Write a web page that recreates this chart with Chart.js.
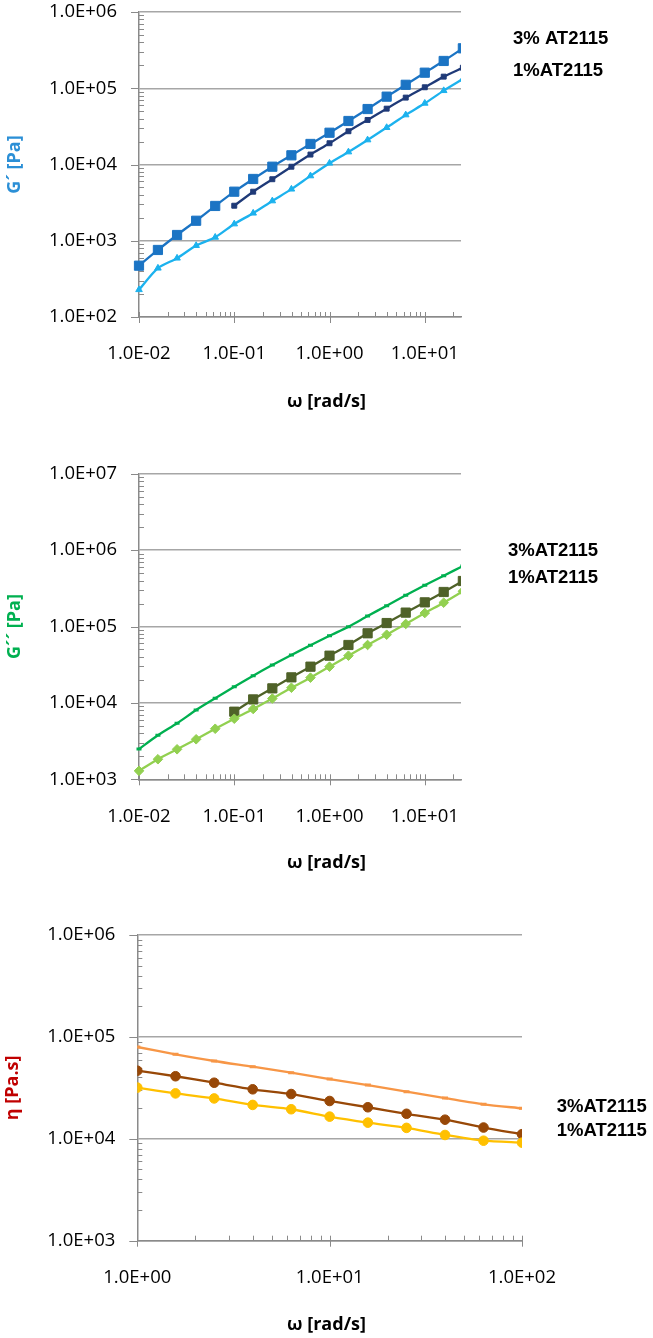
<!DOCTYPE html>
<html>
<head>
<meta charset="utf-8">
<script src="https://cdn.jsdelivr.net/npm/chart.js@4.4.1/dist/chart.umd.min.js"></script>
<style>
html, body { margin: 0; padding: 0; background: #fff; }
#wrap { position: relative; width: 653px; height: 1338px; }
canvas { position: absolute; left: 0; }
</style>
</head>
<body>
<div id="wrap">
  <canvas id="c1" width="653" height="420" style="top:0px"></canvas>
  <canvas id="c2" width="653" height="460" style="top:430px"></canvas>
  <canvas id="c3" width="653" height="448" style="top:890px"></canvas>
</div>
<script>
// frequency sweep, rad/s
const freqSweep = [0.01, 0.0158, 0.0251, 0.0398, 0.0631, 0.1, 0.158, 0.251, 0.398, 0.631,
  1, 1.58, 2.51, 3.98, 6.31, 10, 15.8, 25.1];
const freqEta = [1, 1.58, 2.51, 3.98, 6.31, 10, 15.8, 25.1, 39.8, 63.1, 100];

// G' [Pa]
const gpBlue = [471, 757, 1190, 1830, 2860, 4400, 6460, 9360, 13200, 18600,
  26100, 37200, 53400, 77600, 111000, 160000, 228000, 334000];
const gpNavy = [null, null, null, null, null, 2880, 4400, 6410, 9350, 13500,
  19000, 27300, 38400, 54000, 75400, 103000, 142000, 186000];
const gpLight = [228, 437, 591, 865, 1110, 1660, 2300, 3330, 4750, 7090,
  10400, 14600, 21000, 30500, 44700, 63500, 93000, 132000];

// G'' [Pa]
const gppGreen = [2490, 3770, 5410, 8070, 11500, 16300, 22700, 31300, 42400, 56700,
  75600, 99300, 137000, 187000, 256000, 346000, 462000, 619000];
const gppOlive = [null, null, null, null, null, 7670, 11100, 15500, 21600, 29800,
  41500, 57300, 81500, 111000, 152000, 207000, 283000, 394000];
const gppLime = [1290, 1830, 2470, 3340, 4590, 6210, 8320, 11400, 15800, 21400,
  29800, 41500, 57300, 78100, 108000, 150000, 205000, 289000];

// eta [Pa.s]
const etaOrange = [79600, 67500, 58000, 51000, 44600, 38600, 33700, 29000, 25100, 21800, 19900];
const etaBrown = [46600, 41100, 35500, 30600, 27500, 23500, 20400, 17600, 15400, 12900, 11100];
const etaGold = [31800, 27900, 24900, 21500, 19500, 16500, 14400, 12800, 10900, 9580, 9160];

const legendLabels = ["3% AT2115", "1%AT2115"];
const legendLabels2 = ["3%AT2115", "1%AT2115"];

Chart.defaults.font.family = "'Open Sans', sans-serif";

function sci(v) {
  const e = Math.round(Math.log10(v));
  return "1.0E" + (e < 0 ? "-" : "+") + String(Math.abs(e)).padStart(2, "0");
}
function isDecade(v) {
  const l = Math.log10(v);
  return Math.abs(l - Math.round(l)) < 1e-6;
}
function pts(xs, ys) {
  return xs.map((x, i) => ({ x: x, y: ys[i] }));
}

// small tick marks like the spreadsheet axes: majors outside, minors inside
const logTicks = {
  id: "logTicks",
  beforeDatasetsDraw(chart) {
    const ctx = chart.ctx, xs = chart.scales.x, ys = chart.scales.y, a = chart.chartArea;
    ctx.save();
    ctx.strokeStyle = "#8a8a8a";
    ctx.lineWidth = 1;
    ctx.beginPath();
    for (let d = Math.floor(Math.log10(ys.min)); d <= Math.ceil(Math.log10(ys.max)); d++) {
      for (let k = 1; k < 10; k++) {
        const v = k * Math.pow(10, d);
        if (v < ys.min * 0.999 || v > ys.max * 1.001) continue;
        const p = Math.round(ys.getPixelForValue(v)) + 0.5;
        if (k === 1) { ctx.moveTo(a.left - 8, p); ctx.lineTo(a.left, p); }
        else { ctx.moveTo(a.left, p); ctx.lineTo(a.left + 5, p); }
      }
    }
    for (let d = Math.floor(Math.log10(xs.min)); d <= Math.ceil(Math.log10(xs.max)); d++) {
      for (let k = 1; k < 10; k++) {
        const v = k * Math.pow(10, d);
        if (v < xs.min * 0.999 || v > xs.max * 1.001) continue;
        const p = Math.round(xs.getPixelForValue(v)) + 0.5;
        if (k === 1) { ctx.moveTo(p, a.bottom - 5); ctx.lineTo(p, a.bottom + 6); }
        else { ctx.moveTo(p, a.bottom - 5); ctx.lineTo(p, a.bottom); }
      }
    }
    ctx.stroke();
    ctx.restore();
  }
};

const sideLabels = {
  id: "sideLabels",
  afterDraw(chart, args, opts) {
    const ctx = chart.ctx, a = chart.chartArea;
    ctx.save();
    ctx.font = "bold 18.5px 'Liberation Sans', Arial, sans-serif";
    ctx.fillStyle = "#000";
    ctx.textAlign = "left";
    ctx.textBaseline = "middle";
    opts.items.forEach(it => ctx.fillText(it.text, a.right + it.dx, a.top + it.dy));
    ctx.restore();
  }
};

function makeChart(id, c) {
  const titleLH = 18 * 1.2;
  const padBottom = c.canvasH - c.titleY - titleLH / 2;
  const xAxisH = c.canvasH - padBottom - titleLH - c.bottom;
  return new Chart(id, {
    type: "line",
    data: { datasets: c.datasets },
    options: {
      responsive: false,
      animation: false,
      layout: { padding: { top: c.top, bottom: padBottom, left: 0, right: 0 } },
      elements: { line: { tension: 0.25 } },
      plugins: {
        legend: { display: false },
        tooltip: { enabled: false },
        title: {
          display: true, position: "bottom", text: "ω [rad/s]", color: "#000",
          font: { size: 18, weight: "bold" }, padding: 0
        },
        sideLabels: { items: c.legend }
      },
      scales: {
        x: {
          type: "logarithmic", min: c.xMin, max: c.xMax,
          afterBuildTicks: s => { s.ticks = s.ticks.filter(t => isDecade(t.value)); },
          afterFit: s => { s.height = xAxisH; },
          grid: { display: false, drawTicks: false },
          border: { display: true, color: "#8a8a8a", width: 1.5 },
          ticks: { callback: v => sci(v), autoSkip: false, maxRotation: 0, padding: 26, color: "#000", font: { size: 18.5 } }
        },
        y: {
          type: "logarithmic", min: c.yMin, max: c.yMax,
          afterBuildTicks: s => { s.ticks = s.ticks.filter(t => isDecade(t.value)); },
          afterFit: s => { s.width = c.left; },
          grid: { color: "#a6a6a6", lineWidth: 1.5, drawTicks: true, tickLength: 22, tickColor: "rgba(0,0,0,0)" },
          border: { display: true, color: "#8a8a8a", width: 1.5 },
          ticks: { callback: v => sci(v), autoSkip: false, padding: 0, color: "#000", font: { size: 18.5 } },
          title: {
            display: true, text: c.yTitle, color: c.yColor,
            font: { size: 18, weight: "bold" }, padding: { top: c.yTitlePad, bottom: 0 }
          }
        },
        pad: {
          type: "linear", position: "right", display: true,
          afterFit: s => { s.width = 653 - c.right; },
          grid: { display: false, drawTicks: false },
          border: { display: false },
          ticks: { display: false }
        }
      }
    },
    plugins: [logTicks, sideLabels]
  });
}

function ds(data, color, style, r, extra) {
  return Object.assign({
    data: data, borderColor: color, backgroundColor: color, borderWidth: 2.3,
    pointStyle: style, pointRadius: r, pointBorderWidth: 1, pointBackgroundColor: color,
    pointBorderColor: color
  }, extra || {});
}
const edgeClip = { left: 10, top: 10, right: 0, bottom: 10 };

makeChart("c1", {
  canvasH: 420, top: 12, bottom: 317, left: 139, right: 461, titleY: 401.7,
  xMin: 0.01, xMax: 24, yMin: 1e2, yMax: 1e6,
  yTitle: "G´ [Pa]", yColor: "#2b8fd6", yTitlePad: 4.2,
  legend: [{ text: legendLabels[0], dx: 52, dy: 27 }, { text: legendLabels[1], dx: 52, dy: 59 }],
  datasets: [
    ds(pts(freqSweep, gpLight), "#1cb2ee", "triangle", 3.8, { clip: edgeClip }),
    ds(pts(freqSweep, gpNavy), "#1f3a78", "rect", 3.5, { clip: edgeClip }),
    ds(pts(freqSweep, gpBlue), "#1b74c4", "rect", 6.5, { clip: edgeClip })
  ]
});

makeChart("c2", {
  canvasH: 460, top: 43.7, bottom: 349.3, left: 139, right: 461, titleY: 433.3,
  xMin: 0.01, xMax: 24, yMin: 1e3, yMax: 1e7,
  yTitle: "G´´ [Pa]", yColor: "#00b050", yTitlePad: 4.2,
  legend: [{ text: legendLabels2[0], dx: 47, dy: 77 }, { text: legendLabels2[1], dx: 47, dy: 104 }],
  datasets: [
    ds(pts(freqSweep, gppLime), "#92d050", "rectRot", 4.8, { clip: edgeClip }),
    ds(pts(freqSweep, gppOlive), "#4f6228", "rect", 6.5, { clip: edgeClip }),
    ds(pts(freqSweep, gppGreen), "#00b050", "line", 2.5, { clip: edgeClip, pointBorderWidth: 3 })
  ]
});

makeChart("c3", {
  canvasH: 448, top: 45, bottom: 350.7, left: 137.3, right: 522, titleY: 435,
  xMin: 1, xMax: 100, yMin: 1e3, yMax: 1e6,
  yTitle: "η [Pa.s]", yColor: "#c00000", yTitlePad: 2.5,
  legend: [{ text: legendLabels2[0], dx: 34.7, dy: 172.3 }, { text: legendLabels2[1], dx: 34.7, dy: 195.7 }],
  datasets: [
    ds(pts(freqEta, etaGold), "#ffc000", "circle", 4.8),
    ds(pts(freqEta, etaBrown), "#984807", "circle", 4.8),
    ds(pts(freqEta, etaOrange), "#f79646", "line", 3, { pointBorderWidth: 3 })
  ]
});
</script>
</body>
</html>
